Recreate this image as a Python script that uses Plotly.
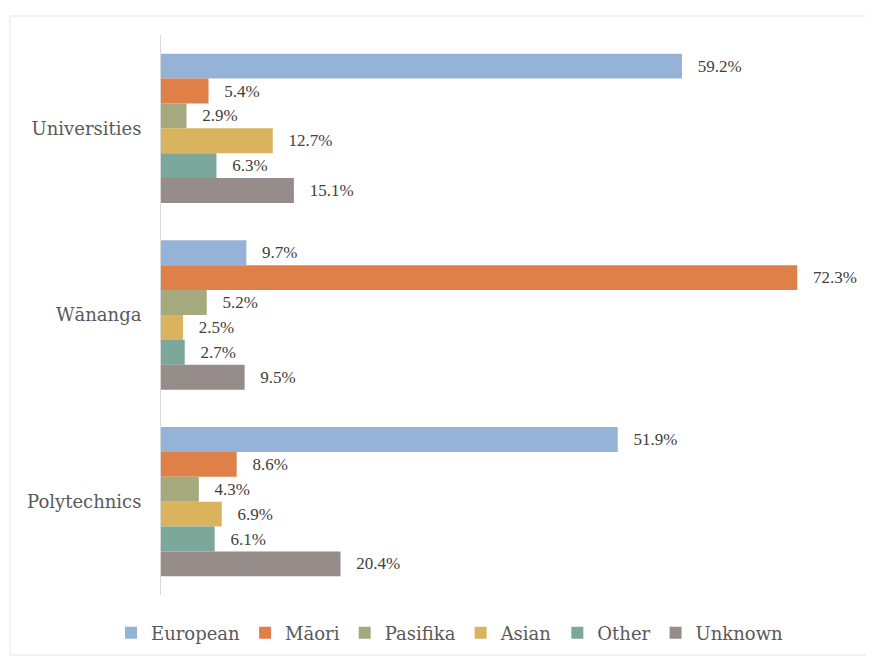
import plotly.graph_objects as go

# datos
sectores = ["Universities", "Wānanga", "Polytechnics"]
etnias = ["European", "Māori", "Pasifika", "Asian", "Other", "Unknown"]
european = [59.2, 9.7, 51.9]
maori = [5.4, 72.3, 8.6]
pasifika = [2.9, 5.2, 4.3]
asian = [12.7, 2.5, 6.9]
other = [6.3, 2.7, 6.1]
unknown = [15.1, 9.5, 20.4]
colores = ["#95B3D7", "#DF8049", "#A4AA7E", "#D9B35D", "#7BA89B", "#968C8A"]

series = [european, maori, pasifika, asian, other, unknown]

fig = go.Figure()
for nombre, valores, color in zip(etnias, series, colores):
    fig.add_trace(go.Bar(
        y=sectores, x=valores, name=nombre, orientation="h",
        marker=dict(color=color, line=dict(width=0)),
        text=["\u00a0\u00a0\u00a0" + f"{v:.1f}%" for v in valores], textposition="outside",
        textfont=dict(color="#404040", size=17, family="Liberation Serif"),
        cliponaxis=False,
    ))

# la pagina tiene 8px de margen en el body, se descuentan
OFF = 8
W, H = 874 - OFF, 657 - OFF
L, T = 161 - OFF, 35 - OFF
plot_r, plot_b = 865 - OFF, 595 - OFF
R, B = W - plot_r, H - plot_b
pw, ph = plot_r - L, plot_b - T

fig.update_layout(
    width=W, height=H,
    margin=dict(l=L, r=R, t=T, b=B),
    barmode="group", bargap=0.2, bargroupgap=0,
    plot_bgcolor="white", paper_bgcolor="white",
    font=dict(family="DejaVu Serif", color="#595959", size=18),
    xaxis=dict(range=[0, 80], showgrid=False, showticklabels=False, zeroline=False,
               showline=False, ticks=""),
    yaxis=dict(autorange="reversed", showgrid=False, showline=True, linecolor="#D9D9D9",
               linewidth=1, ticks="", ticklabelstandoff=15, tickfont=dict(size=18, color="#595959")),
    legend=dict(orientation="h", xref="container", x=(450 - OFF) / W, xanchor="center",
                yref="container", y=1 - (633 - OFF) / H, yanchor="middle",
                font=dict(size=18, color="#595959"), traceorder="normal",
                itemwidth=30, tracegroupgap=0),
    showlegend=True,
)

# marco gris claro alrededor del grafico
fig.add_shape(type="rect", xref="paper", yref="paper",
              x0=(10 - OFF - L) / pw, x1=(W + 5 - L) / pw,
              y0=-(655 - OFF - plot_b) / ph, y1=1 + (T - (16 - OFF)) / ph,
              line=dict(color="#E6E6E6", width=1), fillcolor="rgba(0,0,0,0)", layer="below")

fig.write_html("out.html")
